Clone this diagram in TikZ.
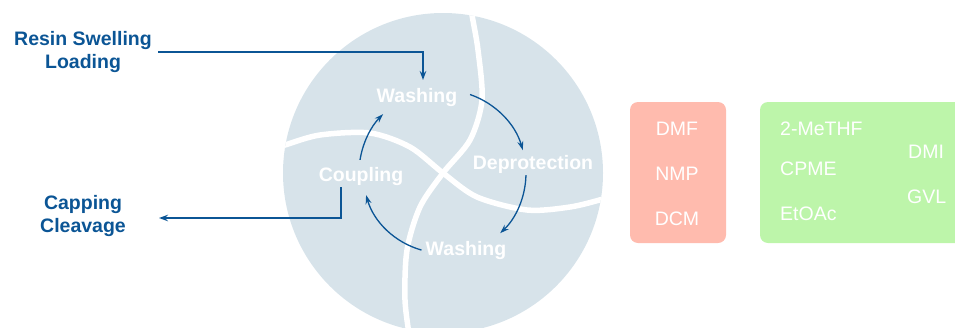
\documentclass[tikz,border=0pt]{standalone}
\usepackage{fontspec}
\setmainfont{Liberation Sans}
\usetikzlibrary{arrows.meta}
\definecolor{circfill}{HTML}{D7E3EA}
\definecolor{darkblue}{HTML}{0B5595}
\definecolor{redbox}{HTML}{FFBBAE}
\definecolor{greenbox}{HTML}{BDF5AA}
\tikzset{
  steplabel/.style={font=\fontsize{19.5}{23}\selectfont\bfseries, text=white, inner sep=0pt, anchor=base},
  sidelabel/.style={font=\fontsize{19.5}{23}\selectfont\bfseries, text=darkblue, inner sep=0pt, align=center},
  solvent/.style={font=\fontsize{19.5}{23}\selectfont, text=white, inner sep=0pt},
  conn/.style={darkblue, line width=1.8pt, -{Stealth[length=9pt,width=6.5pt]}},
  cyc/.style={darkblue, line width=1.3pt, -{Stealth[length=9pt,width=6pt]}},
  divider/.style={white, line width=5.5pt},
}
\begin{document}
\begin{tikzpicture}[x=1pt,y=-1pt]
\useasboundingbox (0,0) rectangle (955,327);
% circle
\coordinate (c) at (443,173);
\fill[circfill] (c) circle (160);
\begin{scope}
  \clip (c) circle (160);
  \draw[divider] plot[smooth] coordinates {(270,150) (285,145) (320,135) (370,133) (410,147) (443,173) (477,197) (527,210) (570,207) (603,199) (620,193)};
  \draw[divider] plot[smooth] coordinates {(470,0) (472,15) (478,50) (482,100) (470,140) (443,173) (420,207) (407,250) (405,300) (410,340)};
\end{scope}
% step labels
\node[steplabel] (w1) at (417,102) {Washing};
\node[steplabel] (dep) at (533,169) {Deprotection};
\node[steplabel] (cpl) at (361,181) {Coupling};
\node[steplabel] (w2) at (466,255) {Washing};
% cycle arrows
\draw[cyc] (c) ++(-71:83) arc[start angle=-71, end angle=-16, radius=83];
\draw[cyc] (c) ++(1.5:83) arc[start angle=1.5, end angle=46.5, radius=83];
\draw[cyc] (c) ++(105.6:80) arc[start angle=105.6, end angle=164, radius=80];
\draw[cyc] (c) ++(189:84) arc[start angle=189, end angle=224.5, radius=84];
% side labels
\node[sidelabel] (rs) at (83,52) {Resin Swelling\\Loading};
\node[sidelabel] (cc) at (83,216) {Capping\\Cleavage};
\coordinate (rsstart) at (158,52);
\coordinate (rsend) at (423,80);
\coordinate (ccstart) at (341,187);
\coordinate (ccend) at (159,218);
\draw[conn] (rsstart) -| (rsend);
\draw[conn] (ccstart) |- (ccend);
% solvent boxes
\fill[redbox, rounded corners=8pt] (630,102) rectangle (726,243);
\fill[greenbox, rounded corners=8pt] (760,102) rectangle (975,243);
\node[solvent, anchor=base] (dmf) at (677,135) {DMF};
\node[solvent, anchor=base] (nmp) at (677,180) {NMP};
\node[solvent, anchor=base] (dcm) at (677,225) {DCM};
\node[solvent, anchor=base west] (meth) at (780,135) {2-MeTHF};
\node[solvent, anchor=base west] (cpme) at (780,175) {CPME};
\node[solvent, anchor=base west] (etoac) at (780,220) {EtOAc};
\node[solvent, anchor=base west] (dmi) at (908,158) {DMI};
\node[solvent, anchor=base west] (gvl) at (907,203) {GVL};
\end{tikzpicture}
\end{document}
